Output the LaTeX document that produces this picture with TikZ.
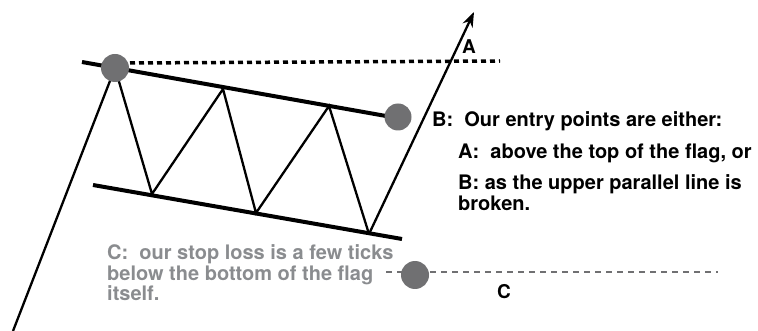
\documentclass[tikz,border=0pt]{standalone}
\usepackage{fontspec}
\setmainfont{TeX Gyre Heros}
\usetikzlibrary{arrows.meta}
\definecolor{dotgray}{RGB}{112,112,114}
\definecolor{txtgray}{RGB}{138,140,143}
\begin{document}
\begin{tikzpicture}[x=1pt,y=-1pt,
  flagline/.style={line width=4pt},
  zig/.style={line width=2.3pt},
  dot/.style={circle,fill=dotgray,minimum size=28pt,inner sep=0pt},
  txt/.style={anchor=base west,inner sep=0pt,font=\bfseries\fontsize{20}{21}\selectfont},
  lbl/.style={inner sep=0pt,font=\bfseries\fontsize{19}{20}\selectfont}]
\useasboundingbox (0,0) rectangle (758,331);
% key points
\coordinate (p0) at (13,331);
\coordinate (t1) at (152,194);
\coordinate (h1) at (223,89);
\coordinate (t2) at (256,213);
\coordinate (h2) at (329,106);
\coordinate (t3) at (369,234);
\coordinate (tip) at (474,12);
\coordinate (tl0) at (82,62);
\coordinate (tl1) at (386,116);
\coordinate (bl0) at (93,185);
\coordinate (bl1) at (402,239);
\coordinate (d0) at (130,63);
\coordinate (d1) at (500,61);
\coordinate (g0) at (386,272);
\coordinate (g1) at (718,272);
% lines
\draw[line width=3.5pt,dash pattern=on 5pt off 4pt] (d0) -- (d1);
\draw[dotgray,line width=2pt,dash pattern=on 6pt off 5pt] (g0) -- (g1);
\draw[flagline] (tl0) -- (tl1);
\draw[flagline] (bl0) -- (bl1);
\draw[zig] (p0) -- (115,68) -- (t1) -- (h1) -- (t2) -- (h2) -- (t3);
\draw[zig,-{Stealth[length=15pt,width=11pt]}] (t3) -- (tip);
% circles
\node[dot] (c1) at (115,68) {};
\node[dot,minimum size=27pt] (c2) at (398,117) {};
\node[dot] (c3) at (415,275) {};
% labels
\node[lbl] (la) at (469,47) {A};
\node[lbl] (lc) at (504,292) {C};
% texts
\node[txt] (tb) at (432,127) {B:\ \ Our entry points are either:};
\node[txt] (ta) at (458,159) {A:\ \ above the top of the flag, or};
\node[txt,align=left] (tb2) at (458,211) {B: as the upper parallel line is\\broken.};
\node[txt,txtgray,align=left,font=\bfseries\fontsize{20}{20.5}\selectfont] (tc) at (107,301) {C:\ \ our stop loss is a few ticks\\below the bottom of the flag\\itself.};
\end{tikzpicture}
\end{document}
